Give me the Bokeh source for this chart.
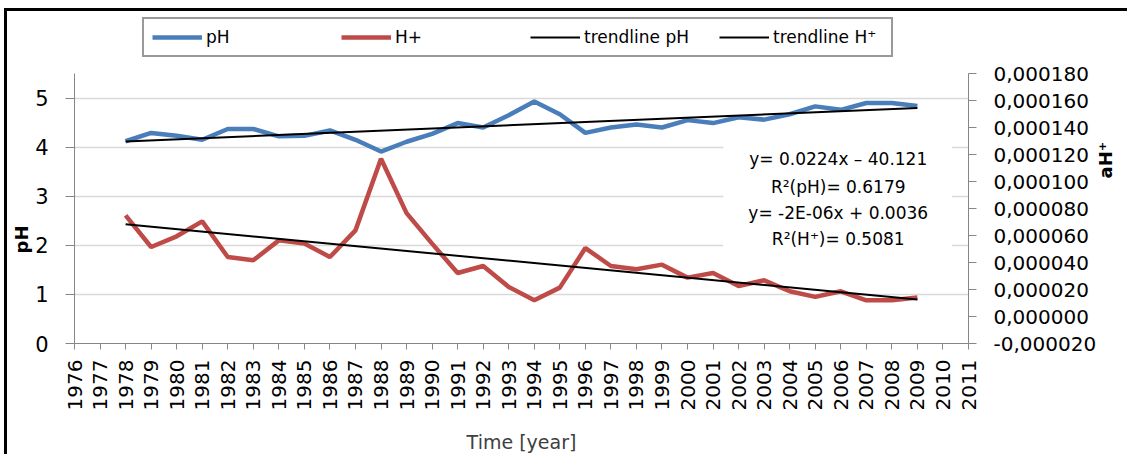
import numpy as np
from math import pi
from bokeh.plotting import figure
from bokeh.models import (Range1d, LinearAxis, FixedTicker, CustomJSTickFormatter,
                          Label, BoxAnnotation, Legend, LegendItem, Title)
from bokeh.embed import file_html
from bokeh.resources import INLINE

# ---------------- data ----------------
YEARS = [1978, 1979, 1980, 1981, 1982, 1983, 1984, 1985, 1986, 1987, 1988, 1989,
         1990, 1991, 1992, 1993, 1994, 1995, 1996, 1997, 1998, 1999, 2000, 2001,
         2002, 2003, 2004, 2005, 2006, 2007, 2008, 2009]
PH = [4.12, 4.29, 4.23, 4.15, 4.37, 4.37, 4.22, 4.23, 4.34, 4.15, 3.91, 4.11,
      4.27, 4.49, 4.40, 4.65, 4.93, 4.67, 4.29, 4.40, 4.46, 4.40, 4.55, 4.49,
      4.61, 4.56, 4.67, 4.83, 4.76, 4.90, 4.90, 4.84]
H_PLUS = [0.0000749, 0.0000515, 0.0000594, 0.0000705, 0.0000441, 0.0000416,
          0.0000564, 0.0000540, 0.0000441, 0.0000638, 0.0001168, 0.0000766,
          0.0000540, 0.0000322, 0.0000374, 0.0000219, 0.0000120, 0.0000214,
          0.0000507, 0.0000374, 0.0000350, 0.0000384, 0.0000288, 0.0000322,
          0.0000226, 0.0000268, 0.0000187, 0.0000145, 0.0000187, 0.0000120,
          0.0000120, 0.0000140]
X_TICKS = list(range(1976, 2012))
PH_TICKS = [0, 1, 2, 3, 4, 5]
H_TICKS = [-0.00002, 0.0, 0.00002, 0.00004, 0.00006, 0.00008, 0.00010,
           0.00012, 0.00014, 0.00016, 0.00018]
ANNOT = ["y= 0.0224x \u2013 40.121", "R\u00b2(pH)= 0.6179",
         "y= -2E-06x + 0.0036", "R\u00b2(H\u207a)= 0.5081"]
LEGEND_LABELS = ["pH", "H+", "trendline pH", "trendline H\u207a"]

# linear trendlines fitted from the data
ph_fit = np.polyfit(YEARS, PH, 1)
h_fit = np.polyfit(YEARS, H_PLUS, 1)
trend_x = [YEARS[0], YEARS[-1]]
trend_ph = list(np.polyval(ph_fit, trend_x))
trend_h = list(np.polyval(h_fit, trend_x))

FONT = "DejaVu Sans"
BLUE = "#4a7ebb"
RED = "#be4b48"
AXIS = "#868686"

# layout: the frame reaches up to the legend; the axes themselves are bounded
PH_BOUNDS = (0, 5.5)
H_BOUNDS = (-0.00002, 0.00018)
FRAME_H, AXIS_H = 330, 270            # pixel heights of frame and of the axes
stretch = FRAME_H / AXIS_H
ph_top = PH_BOUNDS[0] + (PH_BOUNDS[1] - PH_BOUNDS[0]) * stretch
h_top = H_BOUNDS[0] + (H_BOUNDS[1] - H_BOUNDS[0]) * stretch

p = figure(width=1123, height=446, output_backend="svg", toolbar_location=None,
           x_range=Range1d(1976, 2011), y_range=Range1d(PH_BOUNDS[0], ph_top),
           min_border_left=65, min_border_right=162, min_border_top=2,
           min_border_bottom=114)
p.styles = {"margin-left": "4px", "margin-top": "8px",
            "border-left": "3px solid black", "border-top": "3px solid black"}
p.outline_line_color = None
p.background_fill_color = "white"
p.border_fill_color = "white"
p.extra_y_ranges = {"h": Range1d(H_BOUNDS[0], h_top)}

p.xgrid.visible = False
p.ygrid.ticker = FixedTicker(ticks=PH_TICKS)
p.ygrid.grid_line_color = "#d9d9d9"
p.ygrid.grid_line_width = 1.5

# x axis
xa = p.xaxis[0]
xa.ticker = FixedTicker(ticks=X_TICKS)
xa.formatter = CustomJSTickFormatter(code="return tick.toFixed(0);")
xa.major_label_orientation = pi / 2
xa.major_label_text_font = FONT
xa.major_label_text_font_size = "20px"
xa.major_label_text_color = "#000000"
xa.major_label_standoff = 10
xa.major_tick_out = 6
xa.major_tick_in = 0
xa.minor_tick_line_color = None
xa.axis_line_color = AXIS
xa.major_tick_line_color = AXIS
xa.axis_label = "Time [year]"
xa.axis_label_text_font = FONT
xa.axis_label_text_font_size = "19px"
xa.axis_label_text_font_style = "normal"
xa.axis_label_text_color = "#404040"
xa.axis_label_standoff = 18

# left axis
ya = p.yaxis[0]
ya.bounds = PH_BOUNDS
ya.ticker = FixedTicker(ticks=PH_TICKS)
ya.major_label_text_font = FONT
ya.major_label_text_font_size = "21px"
ya.major_label_text_color = "#000000"
ya.major_label_standoff = 17
ya.major_tick_out = 9
ya.major_tick_in = 0
ya.minor_tick_line_color = None
ya.axis_line_color = AXIS
ya.major_tick_line_color = AXIS

# "pH" title on the left, placed low as in the original
p.add_layout(Title(text="pH", align="left", offset=90, standoff=2,
                   text_font=FONT, text_font_size="18px",
                   text_font_style="bold", text_color="#000000"), "left")

# right axis
ra = LinearAxis(y_range_name="h", bounds=H_BOUNDS, ticker=FixedTicker(ticks=H_TICKS),
                formatter=CustomJSTickFormatter(
                    code="return tick.toFixed(6).replace('.', ',');"))
ra.major_label_text_font = FONT
ra.major_label_text_font_size = "20px"
ra.major_label_text_color = "#000000"
ra.major_label_standoff = 17
ra.major_tick_out = 8
ra.major_tick_in = 0
ra.minor_tick_line_color = None
ra.axis_line_color = AXIS
ra.major_tick_line_color = AXIS
ra.axis_label = "aH\u207a"
ra.axis_label_text_font = FONT
ra.axis_label_text_font_size = "18px"
ra.axis_label_text_font_style = "bold"
ra.axis_label_text_color = "#000000"
ra.axis_label_standoff = 6
if "axis_label_orientation" in ra.properties():
    ra.axis_label_orientation = pi / 2
p.add_layout(ra, "right")

# series
r_ph = p.line(YEARS, PH, line_color=BLUE, line_width=4.5)
r_h = p.line(YEARS, H_PLUS, y_range_name="h", line_color=RED, line_width=4.5)
r_tph = p.line(trend_x, trend_ph, line_color="black", line_width=2)
r_th = p.line(trend_x, trend_h, y_range_name="h", line_color="black", line_width=2)

lg = Legend(items=[LegendItem(label=t, renderers=[r])
                   for t, r in zip(LEGEND_LABELS, [r_ph, r_h, r_tph, r_th])])
lg.orientation = "horizontal"
lg.location = (68, 286)
lg.padding = 8
lg.spacing = 25
lg.glyph_width = 50
lg.glyph_height = 20
lg.label_height = 20
lg.label_width = 110
lg.label_standoff = 4
lg.label_text_font = FONT
lg.label_text_font_size = "17px"
lg.label_text_color = "#000000"
lg.border_line_color = "#333333"
lg.border_line_width = 2
lg.background_fill_color = "white"
p.add_layout(lg, "center")

# white box behind the equations
p.add_layout(BoxAnnotation(left=2001.4, right=2010.35, bottom=1.85, top=4.1,
                           fill_color="white", fill_alpha=1.0, line_color=None))
for txt, yv in zip(ANNOT, [3.75, 3.19, 2.66, 2.12]):
    p.add_layout(Label(x=2005.9, y=yv, text=txt, text_align="center",
                       text_baseline="middle", text_font=FONT,
                       text_font_size="17px", text_color="#000000"))

open("out.html", "w").write(file_html(p, INLINE))
